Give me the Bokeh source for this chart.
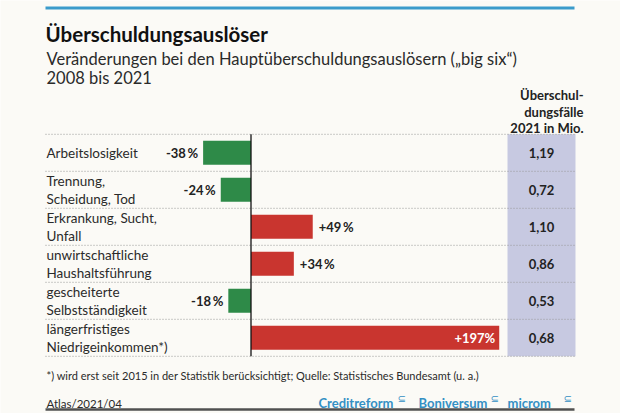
from bokeh.plotting import figure
from bokeh.models import Range1d, ColumnDataSource
from bokeh.core.properties import value
from bokeh.embed import file_html
from bokeh.resources import INLINE

# ---------------- data ----------------
categories = ["Arbeitslosigkeit", "Trennung,\nScheidung, Tod", "Erkrankung, Sucht,\nUnfall",
              "unwirtschaftliche\nHaushaltsführung", "gescheiterte\nSelbstständigkeit",
              "längerfristiges\nNiedrigeinkommen*)"]
change_pct = [-38, -24, 49, 34, -18, 197]
cases_2021_mio = [1.19, 0.72, 1.10, 0.86, 0.53, 0.68]

title = "Überschuldungsauslöser"
subtitle = ["Veränderungen bei den Hauptüberschuldungsauslösern („big six“)", "2008 bis 2021"]
col_header = ["Überschul-", "dungsfälle", "2021 in Mio."]
footnote = "*) wird erst seit 2015 in der Statistik berücksichtigt; Quelle: Statistisches Bundesamt (u. a.)"
code = "Atlas/2021/04"
logos = ["Creditreform", "Boniversum", "microm"]

# ---------------- layout helpers ----------------
W, H = 620, 413
ZERO_PX = 250.5          # pixel of 0 %
K = 1.26                 # px per percent
ROW_PX = 37.0
ROW0_PX = 152.3


def X(ref_x):
    return (ref_x - ZERO_PX) / K


def Y(ref_y):
    return (ref_y - ROW0_PX) / ROW_PX


FONT = value("Lato")
DARK = "#222222"
BG = "#fbfaf6"

p = figure(width=W, height=H, output_backend="svg", toolbar_location=None,
           x_range=Range1d(-ZERO_PX / K, (W - ZERO_PX) / K),
           y_range=Range1d((H - ROW0_PX) / ROW_PX, -ROW0_PX / ROW_PX),
           min_border=0, x_axis_location=None, y_axis_location=None)
p.grid.visible = False
p.outline_line_color = None
p.background_fill_color = BG
p.border_fill_color = BG

n = len(categories)
rows = list(range(n))

# shaded column for 2021 values
p.quad(left=[X(507)], right=[X(575)], top=[-0.5], bottom=[n - 0.5],
       fill_color="#c7c9e1", line_color=None)

# dotted row separators
sep_y = [i - 0.5 for i in range(n + 1)]
p.segment(x0=[X(45)] * len(sep_y), x1=[X(575)] * len(sep_y), y0=sep_y, y1=sep_y,
          line_color="#9a9a9a", line_width=1, line_dash="1 2")

# bars
colors = ["#2e8a48" if v < 0 else "#c9352f" for v in change_pct]
src = ColumnDataSource(dict(y=rows, v=change_pct, c=colors))
p.hbar(y="y", left=0, right="v", height=0.65, fill_color="c", line_color=None, source=src)

# zero line
p.segment(x0=[0], x1=[0], y0=[-0.5], y1=[n - 0.5], line_color="#111111", line_width=1.3)

# bar value labels
lab_txt = [("%+d" % v) + ("%" if abs(v) >= 100 else "\u2009%") for v in change_pct]
out_x, out_y, out_t, out_a = [], [], [], []
in_x, in_y, in_t = [], [], []
for i, v in enumerate(change_pct):
    if v >= 150:
        in_x.append(v - 4 / K); in_y.append(i); in_t.append(lab_txt[i])
    elif v < 0:
        out_x.append(v - 5 / K); out_y.append(i); out_t.append(lab_txt[i]); out_a.append("right")
    else:
        out_x.append(v + 6 / K); out_y.append(i); out_t.append(lab_txt[i]); out_a.append("left")
p.text(x=out_x, y=out_y, text=out_t, text_align=out_a, text_baseline="middle",
       text_font=FONT, text_font_style="bold", text_font_size="13px", text_color=DARK)
p.text(x=in_x, y=in_y, text=in_t, text_align="right", text_baseline="middle",
       text_font=FONT, text_font_style="bold", text_font_size="13px", text_color="white")

# category labels (left)
cx, cy, ct = [], [], []
for i, c in enumerate(categories):
    parts = c.split("\n")
    if len(parts) == 1:
        cx.append(X(46)); cy.append(i); ct.append(parts[0])
    else:
        for j, part in enumerate(parts):
            cx.append(X(46)); cy.append(i + (j - 0.5) * 0.49); ct.append(part)
p.text(x=cx, y=cy, text=ct, text_align="left", text_baseline="middle",
       text_font=FONT, text_font_size="13.5px", text_color="#2a2a2a")

# 2021 values in column
val_txt = [("%.2f" % v).replace(".", ",") for v in cases_2021_mio]
p.text(x=[X(541)] * n, y=rows, text=val_txt, text_align="center", text_baseline="middle",
       text_font=FONT, text_font_style="bold", text_font_size="13px", text_color=DARK)

# column header
p.text(x=[X(583)] * 3, y=[Y(94), Y(111), Y(127.5)], text=col_header, text_align="right",
       text_baseline="alphabetic", text_font=FONT, text_font_style="bold",
       text_font_size="13px", text_color=DARK)

# top rule, title, subtitle
p.segment(x0=[X(45)], x1=[X(574)], y0=[Y(7.5)], y1=[Y(7.5)], line_color="#3b9bcb", line_width=3)
p.text(x=[X(45)], y=[Y(33)], text=[title], text_align="left", text_baseline="alphabetic",
       text_font=FONT, text_font_style="bold", text_font_size="20.5px", text_color="#111111")
p.text(x=[X(46)] * 2, y=[Y(58), Y(77)], text=subtitle, text_align="left",
       text_baseline="alphabetic", text_font=FONT, text_font_size="16.5px", text_color="#2a2a2a")

# footer
p.text(x=[X(46)], y=[Y(375)], text=[footnote], text_align="left", text_baseline="alphabetic",
       text_font=FONT, text_font_size="11px", text_color="#2a2a2a")
p.text(x=[X(46)], y=[Y(403)], text=[code], text_align="left", text_baseline="alphabetic",
       text_font=FONT, text_font_size="11.5px", text_color="#2a2a2a")
logo_x = [318, 418, 507]
sym_x = [397, 490, 563]
p.text(x=[X(v) for v in logo_x], y=[Y(402)] * 3, text=logos, text_align="left",
       text_baseline="alphabetic", text_font=FONT, text_font_style="bold",
       text_font_size="13px", text_color="#3490c4")
p.text(x=[X(v) for v in sym_x], y=[Y(398)] * 3, text=["⊆"] * 3, text_align="left",
       text_baseline="alphabetic", text_font=value("DejaVu Sans"),
       text_font_size="10px", text_color="#3490c4")
p.segment(x0=[X(45)], x1=[X(574)], y0=[Y(409)], y1=[Y(409)], line_color="#505050", line_width=2.5)

html = file_html(p, INLINE)
html = html.replace("<body>", '<body style="background:#fbfaf6">', 1)
open("out.html", "w").write(html)
